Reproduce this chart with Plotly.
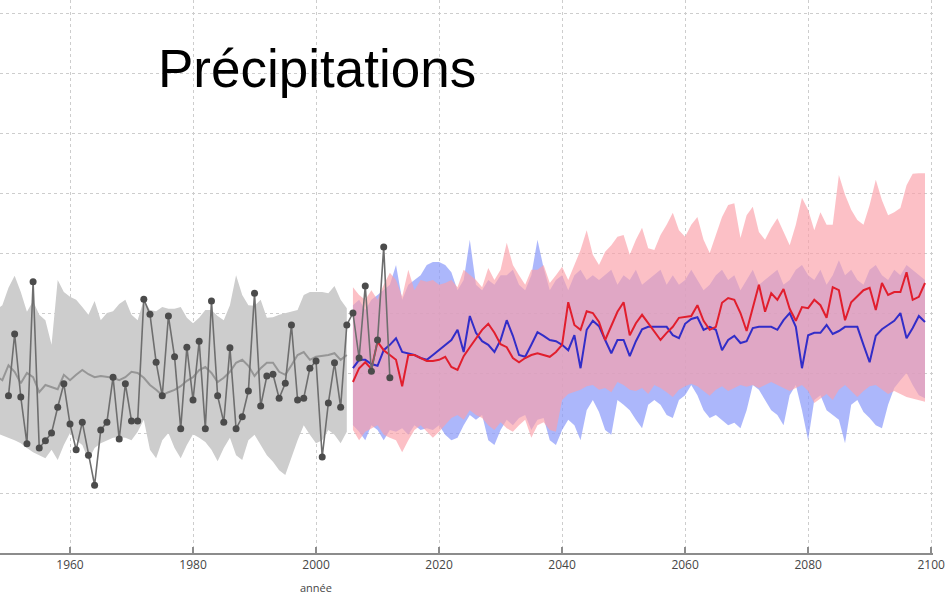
import plotly.graph_objects as go

# ---------------- data ----------------
obs_years = list(range(1950, 2013))
obs_vals = [-3.8, 6.5, -4.0, -11.8, 15.2, -12.5, -11.3, -10.0, -5.7, -1.8,
            -8.5, -12.8, -8.2, -13.7, -18.7, -9.5, -8.2, -0.7, -11.0, -1.8,
            -8.0, -8.0, 12.3, 9.8, 1.8, -3.8, 9.5, 2.7, -9.3, 4.3,
            -4.5, 5.3, -9.3, 12.0, -3.8, -8.2, 4.2, -9.3, -7.3, -3.0,
            13.3, -5.5, -0.5, -0.2, -4.2, -1.7, 8.0, -4.5, -4.2, 0.8,
            2.0, -14.0, -5.0, 1.7, -5.7, 8.0, 10.0, 2.5, 14.5, 0.3,
            5.5, 21.0, -0.8]

hist_years = list(range(1948, 2006))
hist_mean = [-0.5, -1.2, 1.3, 0.2, -1.7, 0.0, -0.7, -3.2, -2.0, -2.3,
             -2.7, -0.3, -1.2, -0.3, 0.5, -0.2, -0.7, -0.5, -0.7, -0.8,
             -1.2, -0.7, 0.2, 0.0, -0.8, -2.0, -2.8, -3.7, -3.2, -2.8,
             -2.2, -1.3, -0.7, 0.5, 1.0, 0.0, -1.5, -0.8, 0.2, 1.7,
             2.2, 1.2, -0.5, 0.8, 1.7, 1.7, 0.2, -0.3, 1.3, 3.0,
             3.5, 2.2, 2.7, 2.8, 3.0, 3.3, 2.2, 3.0]
hist_upper = [10.5, 11.3, 14.2, 16.2, 13.5, 10.2, 12.0, 9.7, 8.8, 4.7,
              15.5, 13.5, 12.7, 12.2, 11.0, 9.7, 12.0, 8.8, 10.0, 10.3,
              11.5, 12.2, 9.7, 8.8, 12.2, 10.5, 10.3, 11.0, 10.7, 10.7,
              11.0, 9.2, 8.3, 9.2, 10.5, 10.5, 9.5, 8.8, 11.3, 16.3,
              13.0, 11.3, 11.2, 12.2, 9.2, 9.3, 9.7, 10.0, 10.3, 10.5,
              13.0, 13.5, 13.5, 13.5, 13.3, 14.5, 12.2, 10.8]
hist_lower = [-10.0, -10.3, -10.8, -11.2, -11.7, -12.5, -13.2, -13.7, -14.2, -12.8,
              -14.5, -12.0, -10.0, -11.2, -12.0, -14.5, -12.5, -11.7, -11.2, -10.8,
              -10.7, -10.8, -11.2, -9.8, -7.8, -12.8, -14.2, -11.2, -10.0, -12.5,
              -14.2, -12.0, -10.2, -10.8, -11.5, -12.8, -14.7, -12.5, -10.8, -13.7,
              -14.5, -11.2, -10.3, -12.0, -13.7, -14.8, -16.2, -17.0, -14.2, -11.2,
              -8.7, -10.3, -11.7, -11.2, -9.5, -10.3, -11.7, -9.8]

proj_years = list(range(2006, 2100))
red_mean = [-1.5, 0.8, 1.8, 0.7, 5.2, 3.8, 3.0, 2.2, -2.2, 3.0,
            3.0, 2.5, 2.0, 2.0, 2.2, 2.7, 1.0, 0.5, 2.8, 4.3,
            5.7, 7.2, 8.2, 6.7, 4.8, 4.3, 2.5, 1.8, 2.5, 3.0,
            3.3, 3.0, 2.7, 3.5, 4.7, 11.8, 8.0, 7.2, 10.3, 10.0,
            8.5, 5.5, 8.0, 10.2, 11.8, 6.3, 8.3, 9.7, 8.3, 7.0,
            5.5, 6.7, 7.7, 9.2, 9.3, 9.5, 11.3, 8.7, 7.2, 7.7,
            11.7, 12.5, 12.2, 10.0, 7.0, 10.8, 14.7, 10.2, 13.3, 12.2,
            14.0, 10.7, 8.7, 11.0, 10.8, 12.2, 11.3, 9.2, 14.3, 13.8,
            8.8, 11.8, 12.8, 13.8, 14.2, 10.5, 15.0, 13.0, 13.5, 13.5,
            16.8, 12.2, 12.7, 15.0]
blue_mean = [0.8, 2.2, 2.2, 1.5, 1.2, 3.8, 4.7, 5.8, 3.5, 3.2,
             3.0, 2.5, 2.2, 3.0, 3.8, 4.7, 5.5, 7.2, 3.5, 9.5,
             6.7, 5.3, 4.7, 3.5, 5.5, 8.8, 6.2, 3.0, 2.7, 4.7,
             6.8, 6.2, 5.5, 5.3, 4.7, 3.8, 6.3, 0.8, 7.2, 8.7,
             7.8, 5.5, 3.3, 5.5, 5.5, 2.8, 5.3, 7.3, 7.7, 7.7,
             7.7, 7.7, 6.3, 5.8, 8.2, 9.0, 9.3, 7.2, 7.7, 7.2,
             3.8, 5.5, 6.2, 5.0, 5.3, 7.5, 7.7, 7.7, 7.7, 7.2,
             8.8, 10.0, 7.7, 0.8, 6.3, 6.7, 6.7, 8.0, 6.5, 7.0,
             7.7, 7.7, 7.7, 4.7, 1.8, 6.2, 7.3, 8.0, 8.7, 10.0,
             5.8, 7.5, 9.5, 8.5]
red_upper = [14.3, 13.0, 12.2, 13.8, 12.2, 14.7, 16.7, 15.5, 12.7, 17.2,
             13.8, 15.5, 15.2, 15.5, 14.7, 15.0, 15.5, 14.3, 17.2, 16.3,
             15.5, 14.3, 17.5, 15.5, 17.2, 21.7, 18.0, 16.3, 14.7, 17.2,
             17.2, 18.0, 15.0, 16.3, 17.7, 15.5, 18.0, 20.5, 23.8, 19.7,
             18.0, 20.2, 21.3, 22.7, 23.0, 19.7, 22.2, 24.2, 20.8, 20.5,
             23.0, 24.7, 26.7, 23.8, 22.7, 24.7, 26.0, 22.2, 20.0, 23.0,
             26.0, 28.0, 28.3, 22.5, 26.3, 27.7, 23.5, 22.2, 24.2, 25.8,
             23.5, 21.3, 24.7, 29.2, 27.2, 23.8, 26.8, 24.7, 24.7, 33.0,
             29.7, 27.2, 25.5, 24.7, 28.0, 32.2, 28.8, 26.3, 26.8, 27.5,
             31.3, 33.2, 33.3, 33.3]
red_lower = [-9.5, -11.2, -9.8, -9.2, -8.7, -10.3, -10.8, -11.2, -13.2, -11.2,
             -9.5, -8.7, -9.8, -10.8, -9.8, -8.7, -7.5, -7.0, -7.8, -6.2,
             -7.0, -7.5, -8.7, -9.5, -8.2, -9.2, -9.8, -8.7, -7.8, -10.8,
             -8.7, -8.2, -9.5, -9.8, -4.5, -3.5, -3.2, -2.8, -2.2, -2.0,
             -2.8, -2.5, -3.2, -1.5, -2.0, -2.8, -3.0, -2.5, -3.5, -2.0,
             -2.5, -3.2, -4.0, -2.8, -2.2, -1.8, -2.2, -3.0, -3.8, -2.8,
             -2.2, -3.0, -2.5, -2.0, -2.3, -2.0, -2.5, -2.0, -1.5, -2.0,
             -2.5, -3.0, -2.5, -2.0, -3.0, -5.0, -4.2, -3.5, -4.5, -2.8,
             -2.0, -3.0, -4.0, -3.0, -2.2, -2.0, -2.8, -3.5, -3.0, -3.5,
             -4.0, -4.2, -4.5, -4.8]
blue_upper = [11.3, 12.2, 10.5, 12.2, 13.0, 13.8, 14.7, 18.0, 12.2, 14.7,
              15.5, 16.3, 18.0, 18.5, 18.5, 18.0, 16.8, 13.8, 15.5, 22.2,
              14.7, 13.8, 15.5, 14.7, 16.3, 16.3, 17.2, 14.7, 13.8, 16.3,
              22.2, 17.5, 13.8, 15.5, 16.3, 13.8, 16.3, 17.2, 15.5, 16.3,
              15.5, 16.3, 17.2, 14.7, 16.3, 15.5, 17.2, 14.7, 15.5, 16.3,
              17.2, 14.7, 16.3, 14.7, 15.5, 17.2, 15.5, 13.8, 14.7, 16.3,
              17.2, 15.5, 16.3, 13.8, 15.5, 17.2, 14.7, 15.5, 16.3, 17.2,
              14.7, 15.5, 17.2, 18.0, 16.3, 15.5, 17.2, 14.7, 16.3, 18.8,
              16.3, 17.2, 15.5, 14.7, 17.2, 18.0, 16.3, 15.5, 17.2, 16.3,
              18.0, 17.2, 16.3, 15.5]
blue_lower = [-8.7, -9.8, -11.2, -8.7, -9.5, -11.2, -9.5, -9.8, -9.2, -10.3,
              -8.7, -9.5, -9.2, -9.5, -8.7, -10.3, -11.2, -10.8, -8.7, -7.0,
              -7.8, -7.0, -11.2, -12.0, -9.5, -7.8, -8.7, -7.5, -7.0, -9.5,
              -7.8, -7.5, -11.2, -12.0, -9.5, -7.8, -8.7, -11.2, -6.2, -4.5,
              -6.5, -9.5, -10.3, -4.5, -5.3, -6.2, -7.8, -9.2, -5.3, -4.5,
              -5.3, -7.0, -7.5, -4.5, -3.7, -2.0, -3.7, -6.2, -7.5, -7.0,
              -7.8, -8.7, -8.3, -9.2, -6.2, -2.0, -2.8, -4.5, -6.2, -7.0,
              -8.7, -3.7, -2.0, -6.2, -11.2, -4.5, -3.7, -6.2, -7.0, -7.8,
              -11.7, -5.3, -4.5, -6.5, -7.5, -8.7, -9.2, -5.3, -2.5, -1.2,
              0.0, -2.0, -3.7, -4.2]

x_ticks = [1960, 1980, 2000, 2020, 2040, 2060, 2080, 2100]
title_text = "Précipitations"
x_title = "année"

# ---------------- figure ----------------
fig = go.Figure()


def band(years, upper, lower, color):
    return go.Scatter(x=list(years) + list(years)[::-1],
                      y=list(upper) + list(lower)[::-1],
                      fill="toself", fillcolor=color, mode="lines",
                      line=dict(width=0), hoverinfo="skip", showlegend=False)


fig.add_trace(band(hist_years, hist_upper, hist_lower, "rgb(205,205,205)"))
fig.add_trace(band(proj_years, blue_upper, blue_lower, "rgba(140,155,250,0.72)"))
fig.add_trace(band(proj_years, red_upper, red_lower, "rgba(250,160,168,0.66)"))

fig.add_trace(go.Scatter(x=hist_years, y=hist_mean, mode="lines",
                         line=dict(color="rgb(150,150,150)", width=2),
                         showlegend=False))
fig.add_trace(go.Scatter(x=proj_years, y=blue_mean, mode="lines",
                         line=dict(color="rgb(50,45,200)", width=2),
                         showlegend=False))
fig.add_trace(go.Scatter(x=proj_years, y=red_mean, mode="lines",
                         line=dict(color="rgb(225,30,45)", width=2),
                         showlegend=False))
fig.add_trace(go.Scatter(x=obs_years, y=obs_vals, mode="lines+markers",
                         line=dict(color="rgb(110,110,110)", width=1.6),
                         marker=dict(color="rgb(75,75,75)", size=7),
                         showlegend=False))

fig.update_layout(
    width=948, height=597,
    margin=dict(l=0, r=15, t=0, b=44),
    paper_bgcolor="white", plot_bgcolor="white",
    showlegend=False,
    xaxis=dict(range=[1948.62, 2100.3], tickvals=x_ticks,
               showgrid=True, gridcolor="rgb(205,205,205)", griddash="dot", gridwidth=1,
               showline=True, linecolor="rgb(140,140,140)", linewidth=2,
               ticks="inside", ticklen=6, tickcolor="rgb(140,140,140)", tickwidth=1.5,
               tickfont=dict(family="Open Sans, Liberation Sans, sans-serif", size=12,
                             color="rgb(70,70,70)"),
               zeroline=False, automargin=False),
    yaxis=dict(range=[-30, 62.17], dtick=10, tick0=0,
               showgrid=True, gridcolor="rgb(205,205,205)", griddash="dot", gridwidth=1,
               showticklabels=False, showline=False, zeroline=False, ticks="",
               automargin=False),
    annotations=[
        dict(text=title_text, xref="paper", yref="paper", x=156 / 933, y=0.877,
             xanchor="left", yanchor="middle", showarrow=False,
             font=dict(family="Liberation Sans, Arial, sans-serif", size=53, color="black")),
        dict(text=x_title, xref="x", yref="paper", x=2000, y=-0.062,
             xanchor="center", yanchor="middle", showarrow=False,
             font=dict(family="Open Sans, Liberation Sans, sans-serif", size=11,
                       color="rgb(70,70,70)")),
    ],
)

fig.write_html("out.html", config={"displayModeBar": False},
               post_script="document.body.style.margin='0';document.body.style.overflow='hidden';")
